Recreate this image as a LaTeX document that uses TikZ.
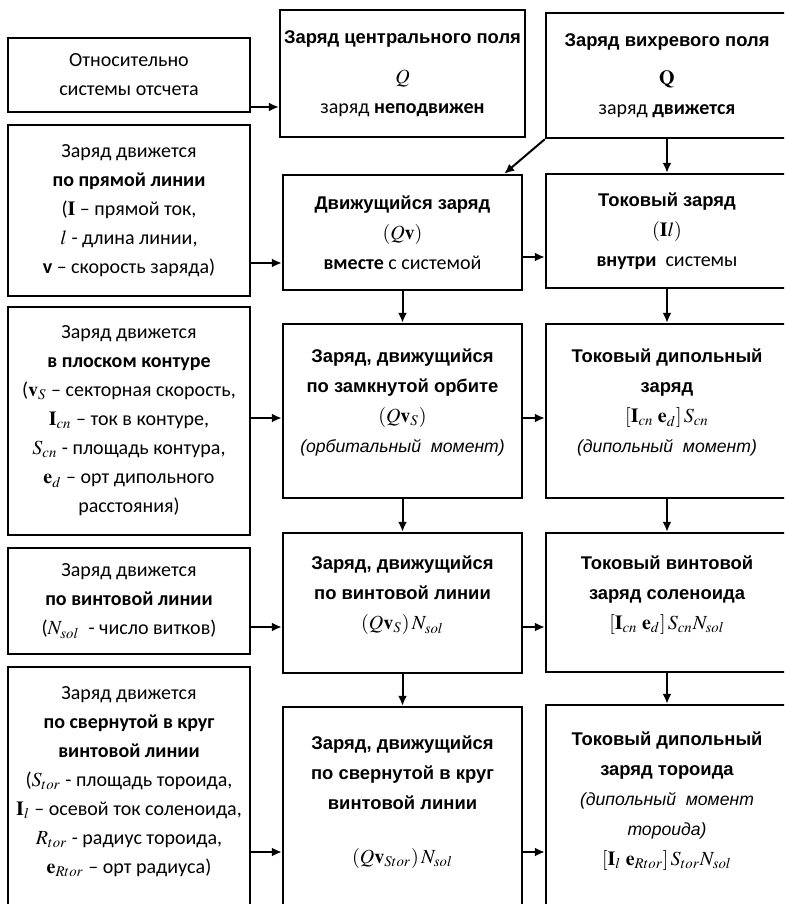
\documentclass[tikz,border=0pt]{standalone}
\usepackage{mathptmx}
\usepackage[no-math]{fontspec}
\usetikzlibrary{arrows.meta}
\setmainfont{Carlito}
\newfontfamily\arialfont{Liberation Sans}
\newcommand{\ttl}[1]{{\arialfont\bfseries\fontsize{9.2}{15}\selectfont #1}}
\newcommand{\itx}[1]{{\arialfont\itshape\fontsize{8.8}{15}\selectfont #1}}

\begin{document}
\begin{tikzpicture}
      [x=0.5pt, y=-0.5pt,
       box/.style={draw, line width=1.2pt, align=center, inner sep=2pt},
       leftbox/.style={box, minimum width=121pt, font=\fontsize{10}{14.5}\selectfont},
       midbox/.style={box, minimum width=119.5pt, font=\fontsize{10}{15}\selectfont},
       rightbox/.style={box, minimum width=121pt, font=\fontsize{10}{15}\selectfont},
       arr/.style={line width=1pt, -{Latex[length=5pt,width=4.5pt]}}]
      \useasboundingbox (0,0) rectangle (784,904);
      \clip (0,0) rectangle (784,904);

      % left column
      \node[leftbox, minimum height=37pt] (L1) at (129,75)
        {Относительно\\системы отсчета};
      \node[leftbox, minimum height=85.5pt] (L2) at (129,210.5)
        {Заряд движется\\\textbf{по прямой линии}\\($\mathbf{I}$ – прямой ток,\\
         $l$ - длина линии,\\\textbf{v} – скорость заряда)};
      \node[leftbox, minimum height=114pt] (L3) at (129,421)
        {Заряд движется\\\textbf{в плоском контуре}\\($\mathbf{v}_S$ – секторная скорость,\\
         $\mathbf{I}_{cn}$ – ток в контуре,\\$S_{cn}$ - площадь контура,\\
         $\mathbf{e}_d$ – орт дипольного\\расстояния)};
      \node[leftbox, minimum height=53pt] (L4) at (129,601)
        {Заряд движется\\\textbf{по винтовой линии}\\($N_{sol}$ \ - число витков)};
      \node[leftbox, minimum height=122.5pt] (L5) at (129,789.5)
        {Заряд движется\\\textbf{по свернутой в круг}\\\textbf{винтовой линии}\\
         ($S_{tor}$ - площадь тороида,\\$\mathbf{I}_l$ – осевой ток соленоида,\\
         $R_{tor}$ - радиус тороида,\\$\mathbf{e}_{Rtor}$ – орт радиуса)\\[-5pt]\mbox{}};

      % middle column
      \node[midbox, minimum height=63.5pt] (M1) at (402.5,73.5)
        {\ttl{Заряд центрального поля}\\[5pt]$Q$\\заряд \textbf{неподвижен}};
      \node[midbox, minimum height=57.5pt] (M2) at (402.5,232.5)
        {\ttl{Движущийся заряд}\\$(Q\mathbf{v})$\\\textbf{вместе} с системой};
      \node[midbox, minimum height=87pt] (M3) at (402.5,411)
        {\ttl{Заряд, движущийся}\\\ttl{по замкнутой орбите}\\$(Q\mathbf{v}_S)$\\
         \itx{(орбитальный \ момент)}\\[-5pt]\mbox{}};
      \node[midbox, minimum height=70pt] (M4) at (402.5,603)
        {\ttl{Заряд, движущийся}\\\ttl{по винтовой линии}\\$(Q\mathbf{v}_S)\,N_{sol}$\\[-5pt]\mbox{}};
      \node[midbox, minimum height=102.5pt] (M5) at (402.5,809.5)
        {\ttl{Заряд, движущийся}\\\ttl{по свернутой в круг}\\\ttl{винтовой линии}\\[12pt]
         $(Q\mathbf{v}_{Stor})\,N_{sol}$\\[-5pt]\mbox{}};

      % right column
      \node[rightbox, minimum height=62.5pt] (R1) at (667,75.5)
        {\ttl{Заряд вихревого поля}\\[4pt]$\mathbf{Q}$\\заряд \textbf{движется}};
      \node[rightbox, minimum height=57pt] (R2) at (667,231)
        {\ttl{Токовый заряд}\\$(\mathbf{I}l)$\\\textbf{внутри} \ системы};
      \node[rightbox, minimum height=87pt] (R3) at (667,411)
        {\ttl{Токовый дипольный}\\\ttl{заряд}\\$[\mathbf{I}_{cn}\;\mathbf{e}_d]\,S_{cn}$\\
         \itx{(дипольный \ момент)}\\[-5pt]\mbox{}};
      \node[rightbox, minimum height=69.5pt] (R4) at (667,602.5)
        {\ttl{Токовый винтовой}\\\ttl{заряд соленоида}\\
         $[\mathbf{I}_{cn}\;\mathbf{e}_d]\,S_{cn}N_{sol}$\\[-5pt]\mbox{}};
      \node[rightbox, minimum height=103.5pt] (R5) at (667,808.5)
        {\ttl{Токовый дипольный}\\\ttl{заряд тороида}\\\itx{(дипольный \ момент}\\
         \itx{тороида)}\\$[\mathbf{I}_l\;\mathbf{e}_{Rtor}]\,S_{tor}N_{sol}$\\[-5pt]\mbox{}};

      % rows of the horizontal arrows
      \coordinate (y1) at (0,107);
      \coordinate (y2) at (0,263);
      \coordinate (y2b) at (0,257);
      \coordinate (y3) at (0,418);
      \coordinate (y4) at (0,627);
      \coordinate (y5) at (0,852);

      \foreach \from/\to/\row in {L1/M1/y1,L2/M2/y2,M2/R2/y2b,L3/M3/y3,M3/R3/y3,
                                  L4/M4/y4,M4/R4/y4,L5/M5/y5,M5/R5/y5}
      \draw[arr] (\from.east |- \row) -- (\to.west |- \row);

      \foreach \from/\to in {M2/M3,M3/M4,M4/M5,R1/R2,R2/R3,R3/R4,R4/R5}
      \draw[arr] (\from) -- (\to);

      % slanted arrow
      \draw[arr] (R1.south west) -- ([xshift=-9.5pt]M2.north east);
    \end{tikzpicture}
\end{document}
